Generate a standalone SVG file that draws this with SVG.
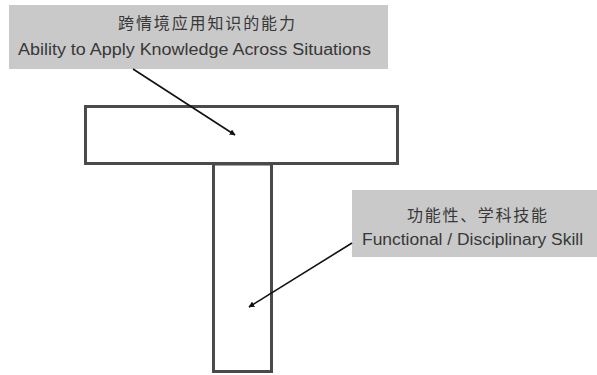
<svg xmlns="http://www.w3.org/2000/svg" width="597" height="375" viewBox="0 0 597 375">
  <style>
    .label-bg { fill: #c9c9c9; }
    .bar { fill: #ffffff; stroke: #4a4a4a; stroke-width: 3; }
    .zh { font-family: "Noto Sans CJK SC", "Liberation Sans", sans-serif; font-size: 16px; fill: #383838; }
    .en { font-family: "Liberation Sans", "Noto Sans CJK SC", sans-serif; font-size: 16px; fill: #383838; }
    .conn { stroke: #111111; stroke-width: 1.6; fill: none; marker-end: url(#arrow); }
  </style>
  <defs>
    <marker id="arrow" viewBox="0 0 10 10" refX="9" refY="5" markerWidth="6" markerHeight="6" orient="auto" markerUnits="userSpaceOnUse">
      <path d="M0,0 L10,5 L0,10 z" fill="#111111"/>
    </marker>
  </defs>
  <rect width="597" height="375" fill="#ffffff"/>

  <!-- T shape: horizontal and vertical bars -->
  <g id="vertical-bar">
    <rect class="bar" x="213.5" y="164" width="58" height="207.5"/>
  </g>
  <g id="horizontal-bar">
    <rect class="bar" x="85.5" y="106.5" width="312" height="57"/>
  </g>

  <!-- Labels -->
  <g id="label-across">
    <rect class="label-bg" x="9" y="5" width="379" height="64"/>
    <text class="zh" x="118" y="29" textLength="177" lengthAdjust="spacing">跨情境应用知识的能力</text>
    <text class="en" x="18" y="55" textLength="353" lengthAdjust="spacingAndGlyphs">Ability to Apply Knowledge Across Situations</text>
  </g>
  <g id="label-functional">
    <rect class="label-bg" x="352" y="190" width="245" height="67"/>
    <text class="zh" x="407" y="221" textLength="140" lengthAdjust="spacing">功能性、学科技能</text>
    <text class="en" x="362" y="245" textLength="221" lengthAdjust="spacingAndGlyphs">Functional / Disciplinary Skill</text>
  </g>

  <!-- Connectors -->
  <g id="connectors">
    <line class="conn" x1="133" y1="69" x2="235" y2="135"/>
    <line class="conn" x1="352" y1="243" x2="249" y2="307"/>
  </g>
</svg>
